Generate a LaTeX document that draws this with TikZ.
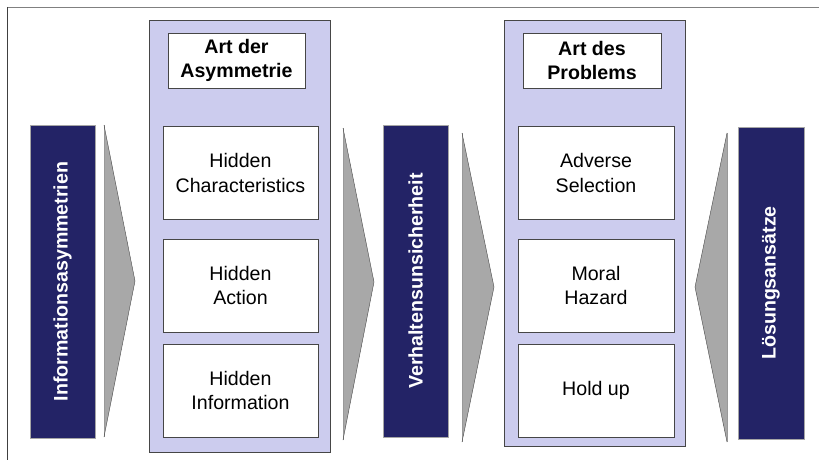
\documentclass[tikz,border=0pt]{standalone}
\usepackage{fontspec}
\setmainfont{Liberation Sans}
\usetikzlibrary{positioning}
\definecolor{navy}{RGB}{35,35,102}
\definecolor{lavender}{RGB}{204,204,238}
\definecolor{chevron}{RGB}{168,168,168}
\definecolor{edge}{RGB}{70,70,70}
\tikzstyle{bar} = [draw=gray!70, fill=navy, text=white, inner sep=0pt, font=\fontsize{19.6}{24.5}\selectfont\bfseries]
\tikzstyle{panel} = [draw=edge, fill=lavender, inner sep=0pt, minimum width=181]
\tikzstyle{item} = [draw=edge, fill=white, align=center, inner sep=0pt, minimum height=93]
\tikzstyle{head} = [item, minimum height=55, font=\fontsize{19.6}{24.5}\selectfont\bfseries]
\tikzstyle{chev} = [fill=chevron, draw=none]

\begin{document}
\begin{tikzpicture}[x=1pt, y=-1pt, font=\fontsize{19.6}{24.5}\selectfont]
    \useasboundingbox (0,0) rectangle (819,460);
    % frame
    \draw[gray] (7,7) -- (819,7);
    \draw[black!75] (7,7) -- (7,460);

    % panels
    \node[panel, minimum height=432] (asym) at (239.5,236) {};
    \node[panel, minimum height=426] (prob) at (594.5,233) {};
    \node[head, minimum width=137] (hasym) at (236.5,60.5) {Art der\\Asymmetrie};
    \node[head, minimum width=138] (hprob) at (592,60.5) {Art des\\Problems};

    \foreach \i/\y/\t in {1/173/{Hidden\\Characteristics}, 2/285.5/{Hidden\\Action}, 3/390.5/{Hidden\\Information}}
        \node[item, minimum width=155] (a\i) at (240.5,\y) {\t};
    \foreach \i/\y/\t in {1/173/{Adverse\\Selection}, 2/285.5/{Moral\\Hazard}, 3/390.5/{Hold up}}
        \node[item, minimum width=156] (p\i) at (596,\y) {\t};

    % bars
    \node[bar, rotate=90, minimum width=313, minimum height=65] (info) at (62.5,281.5) {Informationsasymmetrien};
    \node[bar, rotate=90, minimum width=312, minimum height=65] (verh) at (415.5,281) {Verhaltensunsicherheit};
    \node[bar, rotate=90, minimum width=312, minimum height=66] (loes) at (771,283) {Lösungsansätze};

    % chevrons
    \foreach \x/\t/\b/\tx/\ty in {104/125/437/135/281, 343/128/440/374/282, 462/133/442/494/287, 727/133/442/695/287} {
        \fill[chev] (\x,\t) -- (\tx,\ty) -- (\x,\b) -- cycle;
        \draw[gray!80] (\x,\t) -- (\x,\b);
        \draw[edge] (\x,\t) -- (\tx,\ty) -- (\x,\b);
    }
\end{tikzpicture}
\end{document}
